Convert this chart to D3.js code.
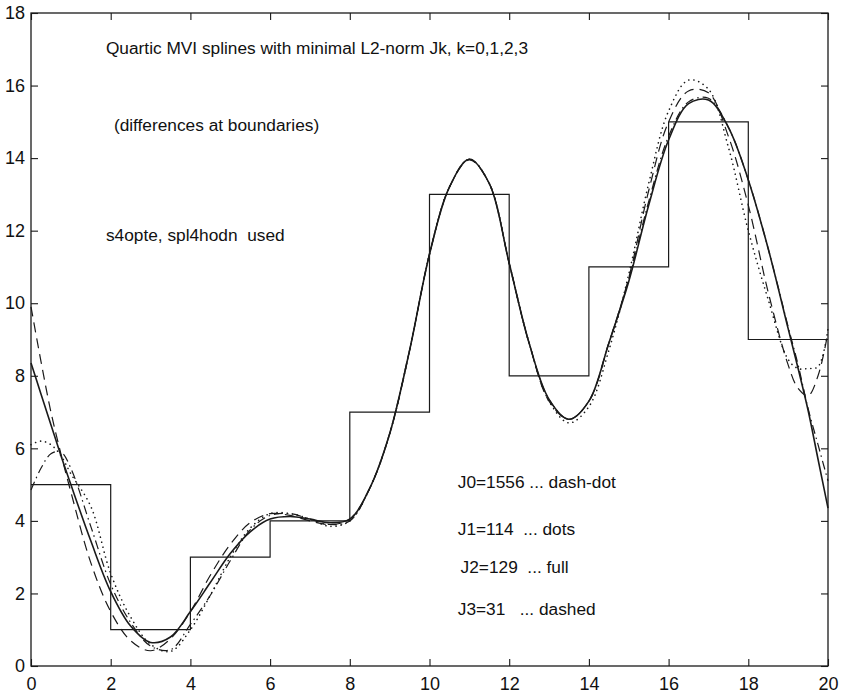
<!DOCTYPE html>
<html>
<head>
<meta charset="utf-8">
<script src="https://cdn.jsdelivr.net/npm/d3@7"></script>
<style>
  html, body { margin: 0; padding: 0; background: #fff; }
  svg { display: block; }
  text { font-family: "Liberation Sans", Arial, Helvetica, sans-serif; fill: #111; }
  .note { white-space: pre; }
</style>
</head>
<body>
<svg id="chart" width="847" height="692"></svg>
<script>
// ---------- data ----------
const stepEdges  = [0, 2, 4, 6, 8, 10, 12, 14, 16, 18, 20];
const stepLevels = [5, 1, 3, 4, 7, 13, 8, 11, 15, 9];

const xs = [0, 0.25, 0.5, 0.75, 1, 1.5, 2, 2.5, 3, 3.5, 4, 4.5, 5, 5.5, 6, 6.5, 7, 7.5, 8,
            8.5, 9, 9.5, 10, 10.5, 11, 11.5, 12, 12.5, 13, 13.5, 14, 14.5, 15, 15.5, 16,
            16.5, 17, 17.5, 18, 18.5, 19, 19.25, 19.5, 19.75, 20];

// J0 ... dash-dot
const j0 = [4.85, 5.45, 5.85, 5.9, 5.45, 3.85, 2.25, 1.2, 0.55, 0.45, 1.15, 1.95, 2.9, 3.75, 4.15,
            4.2, 4.05, 3.9, 4.0, 4.9, 6.4, 8.7, 11.35, 13.2, 13.97, 13.3, 11.1, 8.9, 7.35, 6.8,
            7.3, 8.9, 10.65, 12.8, 14.6, 15.55, 15.65, 14.85, 13.4, 11.5, 9.35, 8.3, 7.1, 6.1, 5.1];
// J1 ... dots
const j1 = [6.1, 6.2, 6.1, 5.8, 5.3, 4.4, 2.55, 1.35, 0.6, 0.4, 1.0, 1.95, 3.0, 3.8, 4.2,
            4.2, 4.05, 3.85, 4.0, 4.9, 6.4, 8.7, 11.35, 13.2, 13.97, 13.3, 11.1, 8.9, 7.3, 6.7,
            7.15, 8.7, 10.8, 13.3, 15.3, 16.15, 15.9, 14.3, 12.0, 10.1, 8.45, 8.2, 8.2, 8.25, 9.3];
// J2 ... full
const j2 = [8.35, 7.5, 6.65, 5.8, 5.0, 3.45, 2.05, 1.1, 0.65, 0.8, 1.5, 2.3, 3.1, 3.7, 4.05,
            4.12, 4.05, 3.95, 4.05, 4.9, 6.4, 8.7, 11.35, 13.2, 13.97, 13.3, 11.1, 8.9, 7.35, 6.8,
            7.3, 8.9, 10.6, 12.7, 14.5, 15.5, 15.6, 14.85, 13.4, 11.5, 9.3, 8.2, 7.05, 5.7, 4.35];
// J3 ... dashed
const j3 = [9.9, 8.4, 7.0, 5.85, 4.8, 2.85, 1.5, 0.7, 0.42, 0.75, 1.5, 2.5, 3.35, 3.95, 4.2,
            4.15, 4.0, 3.9, 4.05, 4.9, 6.4, 8.7, 11.35, 13.2, 13.95, 13.3, 11.1, 8.9, 7.3, 6.8,
            7.3, 8.9, 10.7, 13.1, 15.0, 15.85, 15.8, 14.6, 12.7, 10.3, 8.3, 7.65, 7.45, 8.0, 9.2];

const xTicks = [0, 2, 4, 6, 8, 10, 12, 14, 16, 18, 20];
const yTicks = [0, 2, 4, 6, 8, 10, 12, 14, 16, 18];

const titleLines = [
  {text: "Quartic MVI splines with minimal L2-norm Jk, k=0,1,2,3", x: 1.88, y: 17.0},
  {text: "(differences at boundaries)", x: 2.08, y: 14.86},
  {text: "s4opte, spl4hodn  used", x: 1.88, y: 11.85}
];
const legendLines = [
  {text: "J0=1556 ... dash-dot", x: 10.71, y: 5.04},
  {text: "J1=114  ... dots",     x: 10.71, y: 3.75},
  {text: "J2=129  ... full",     x: 10.78, y: 2.70},
  {text: "J3=31   ... dashed",   x: 10.71, y: 1.54}
];

// ---------- layout ----------
const svg = d3.select("#chart");
const L = 31, R = 828, T = 13, B = 666;
const x = d3.scaleLinear().domain([0, 20]).range([L, R]);
const y = d3.scaleLinear().domain([0, 18]).range([B, T]);
const ink = "#1a1a1a";

// axes (ticks inward on all four sides)
const ax = (g) => g.selectAll(".domain").remove();
svg.append("g").attr("transform", `translate(0,${B})`)
  .call(d3.axisBottom(x).tickValues(xTicks).tickFormat(d3.format("d")).tickSize(-7).tickPadding(10))
  .call(ax)
  .call(g => g.selectAll("line").attr("stroke", ink).attr("stroke-width", 1.1))
  .call(g => g.selectAll("text").attr("font-size", 18).attr("dy", "0.75em").style("font-family", '"Liberation Sans", Arial, sans-serif').attr("fill", "#111"));
svg.append("g").attr("transform", `translate(0,${T})`)
  .call(d3.axisTop(x).tickValues(xTicks).tickFormat("").tickSize(-7))
  .call(ax)
  .call(g => g.selectAll("line").attr("stroke", ink).attr("stroke-width", 1.1));
svg.append("g").attr("transform", `translate(${L},0)`)
  .call(d3.axisLeft(y).tickValues(yTicks).tickFormat(d3.format("d")).tickSize(-7).tickPadding(6))
  .call(ax)
  .call(g => g.selectAll("line").attr("stroke", ink).attr("stroke-width", 1.1))
  .call(g => g.selectAll("text").attr("font-size", 18).style("font-family", '"Liberation Sans", Arial, sans-serif').attr("fill", "#111"));
svg.append("g").attr("transform", `translate(${R},0)`)
  .call(d3.axisRight(y).tickValues(yTicks).tickFormat("").tickSize(-7))
  .call(ax)
  .call(g => g.selectAll("line").attr("stroke", ink).attr("stroke-width", 1.1));

// frame
svg.append("rect").attr("x", L).attr("y", T).attr("width", R - L).attr("height", B - T)
  .attr("fill", "none").attr("stroke", ink).attr("stroke-width", 1.3);

// step function
const stepPts = stepEdges.map((e, i) => [e, i < stepLevels.length ? stepLevels[i] : stepLevels[stepLevels.length - 1]]);
svg.append("path")
  .attr("d", d3.line().x(d => x(d[0])).y(d => y(d[1])).curve(d3.curveStepAfter)(stepPts))
  .attr("fill", "none").attr("stroke", ink).attr("stroke-width", 1.2);

// spline curves
const line = d3.line().x(d => x(d[0])).y(d => y(d[1])).curve(d3.curveCatmullRom.alpha(0.5));
const series = [
  {vals: j0, dash: "9,4,1.5,4", w: 1.2, cap: "butt"},
  {vals: j1, dash: "0.1,5",     w: 1.6, cap: "round"},
  {vals: j3, dash: "10,6",      w: 1.2, cap: "butt"},
  {vals: j2, dash: null,        w: 1.6, cap: "butt"}
];
series.forEach(s => {
  svg.append("path")
    .attr("d", line(xs.map((xv, i) => [xv, s.vals[i]])))
    .attr("fill", "none").attr("stroke", ink).attr("stroke-width", s.w)
    .attr("stroke-linecap", s.cap)
    .attr("stroke-dasharray", s.dash);
});

// annotations
svg.append("g").selectAll("text").data(titleLines.concat(legendLines)).join("text")
  .attr("class", "note")
  .attr("x", d => x(d.x)).attr("y", d => y(d.y))
  .attr("font-size", 17.3).attr("dominant-baseline", "middle")
  .text(d => d.text);
</script>
</body>
</html>
